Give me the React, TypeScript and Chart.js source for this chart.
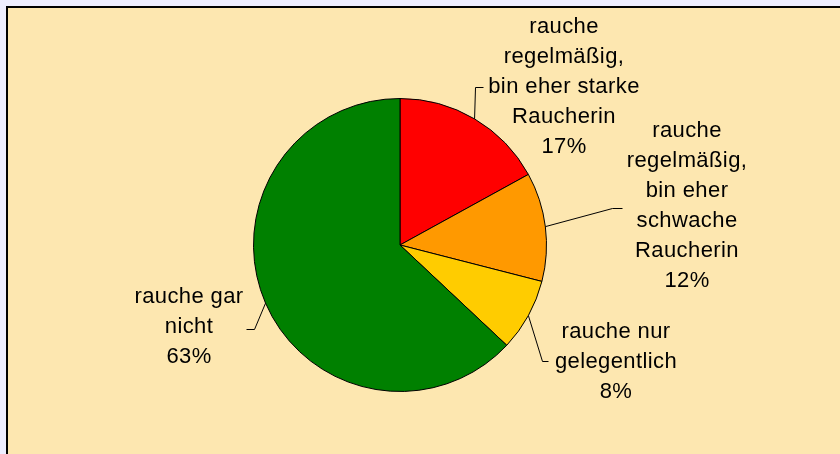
import React, { useEffect, useRef } from "react";
import { Chart, registerables } from "chart.js";

Chart.register(...registerables);

const categories = [
  "rauche regelmäßig, bin eher starke Raucherin",
  "rauche regelmäßig, bin eher schwache Raucherin",
  "rauche nur gelegentlich",
  "rauche gar nicht",
];
const labelLines = [
  ["rauche", "regelmäßig,", "bin eher starke", "Raucherin"],
  ["rauche", "regelmäßig,", "bin eher", "schwache", "Raucherin"],
  ["rauche nur", "gelegentlich"],
  ["rauche gar", "nicht"],
];
const percentages = [17, 12, 8, 63];
const sliceColors = ["#FF0000", "#FF9900", "#FFCC00", "#008000"];

// label placement (layout, not data)
const labelLayout = [
  { cx: 564, top: 33, elbow: [475, 87], end: [483, 87] },
  { cx: 687, top: 137, elbow: [612, 208], end: [622, 208] },
  { cx: 616, top: 338, elbow: [542, 361], end: [548, 361] },
  { cx: 189, top: 303, elbow: [254, 329], end: [246, 329] },
];
const LINE_H = 30;

const labelPlugin = {
  id: "pieLabels",
  afterDatasetsDraw(chart: any) {
    const ctx = chart.ctx as CanvasRenderingContext2D;
    const meta = chart.getDatasetMeta(0);
    ctx.save();
    meta.data.forEach((arc: any, i: number) => {
      const p = arc.getProps(["x", "y", "outerRadius", "startAngle", "endAngle"], true);
      const mid = (p.startAngle + p.endAngle) / 2;
      const sx = p.x + Math.cos(mid) * p.outerRadius;
      const sy = p.y + Math.sin(mid) * p.outerRadius;
      const L = labelLayout[i];
      ctx.strokeStyle = "#000";
      ctx.lineWidth = 1;
      ctx.beginPath();
      ctx.moveTo(sx, sy);
      ctx.lineTo(L.elbow[0] + 0.5, L.elbow[1] + 0.5);
      ctx.lineTo(L.end[0] + 0.5, L.end[1] + 0.5);
      ctx.stroke();

      ctx.fillStyle = "#000";
      ctx.font = "22px 'Liberation Sans', Arial, sans-serif";
      (ctx as any).letterSpacing = "0.4px";
      ctx.textAlign = "center";
      ctx.textBaseline = "alphabetic";
      const lines = [...labelLines[i], `${percentages[i]}%`];
      lines.forEach((t, k) => {
        ctx.fillText(t, L.cx, L.top + k * LINE_H);
      });
    });
    ctx.restore();
  },
};

export default function App() {
  const ref = useRef<HTMLCanvasElement>(null);
  useEffect(() => {
    document.body.style.margin = "0";
    const canvas = ref.current!;
    const chart = new Chart(canvas, {
      type: "pie",
      data: {
        labels: categories,
        datasets: [
          {
            data: percentages,
            backgroundColor: sliceColors,
            borderColor: "#000",
            borderWidth: 1,
          },
        ],
      },
      options: {
        responsive: false,
        animation: false,
        layout: { padding: { left: 253, right: 293, top: 98, bottom: 62 } },
        plugins: {
          legend: { display: false },
          tooltip: { enabled: false },
        },
      },
      plugins: [labelPlugin],
    });
    return () => chart.destroy();
  }, []);
  return (
    <div
      style={{
        position: "fixed",
        left: 0,
        top: 0,
        width: 840,
        height: 454,
        overflow: "hidden",
        background: "#EEEEFF",
      }}
    >
      <div
        style={{
          position: "absolute",
          left: 6,
          top: 6,
          width: 900,
          height: 500,
          borderLeft: "2px solid #000",
          borderTop: "2px solid #000",
          background: "#FDE7B0",
        }}
      />
      <canvas
        ref={ref}
        width={840}
        height={454}
        style={{ position: "absolute", left: 0, top: 0, width: 840, height: 454 }}
      />
    </div>
  );
}
